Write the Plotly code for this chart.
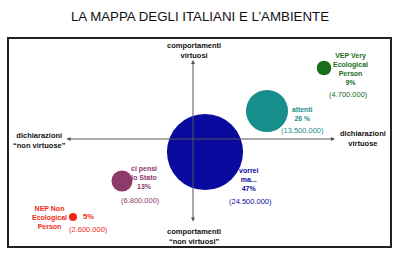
import plotly.graph_objects as go

# Data
groups = ["NEP Non Ecological Person", "ci pensi lo Stato", "vorrei ma...", "attenti", "VEP Very Ecological Person"]
percent = [5, 13, 47, 26, 9]
people = ["2.600.000", "6.800.000", "24.500.000", "13.500.000", "4.700.000"]
x_pos = [-120, -71, 12, 74, 131]
y_pos = [-78, -42, -13, 28, 71]
colors = ["#ee2a14", "#8e3a6a", "#0a0a9e", "#178e8c", "#1a6e1a"]

FONT = "Liberation Sans, Arial, sans-serif"

fig = go.Figure()
fig.add_trace(go.Scatter(
    x=x_pos, y=y_pos, mode="markers",
    marker=dict(size=[p * 1.62 for p in percent], sizemode="diameter",
                color=colors, line=dict(width=0), opacity=1),
    hoverinfo="skip", showlegend=False,
))

ann = []
# axes arrows
ann.append(dict(x=0, y=79, ax=0, ay=-84, xref="x", yref="y", axref="x", ayref="y",
                showarrow=True, arrowhead=2, arrowside="end+start", arrowsize=0.8,
                arrowwidth=1, arrowcolor="#555", text=""))
ann.append(dict(x=142, y=0, ax=-128, ay=0, xref="x", yref="y", axref="x", ayref="y",
                showarrow=True, arrowhead=2, arrowside="end+start", arrowsize=0.8,
                arrowwidth=1, arrowcolor="#555", text=""))

def lab(x, y, text, color="#111", size=7.5, bold=True):
    t = "<b>" + text + "</b>" if bold else text
    ann.append(dict(x=x, y=y, xref="x", yref="y", text=t, showarrow=False,
                    font=dict(family=FONT, size=size, color=color), align="center"))

lab(1, 89, "comportamenti<br>virtuosi")
lab(1, -97, "comportamenti<br>“non virtuosi”")
lab(-154, -1, "dichiarazioni<br>“non virtuose”")
lab(170, 1, "dichiarazioni<br>virtuose")

# group labels
lab(157, 70, "VEP Very<br>Ecological<br>Person<br>" + str(percent[4]) + "%", colors[4], 7)
lab(155, 45, "(" + people[4] + ")", colors[4], 7.5, False)
lab(109, 25, "attenti<br>" + str(percent[3]) + " %", colors[3], 6.8)
lab(109, 9, "(" + people[3] + ")", colors[3], 7.5, False)
lab(56, -40, "vorrei<br>ma...<br>" + str(percent[2]) + "%", colors[2], 7)
lab(57, -62, "(" + people[2] + ")", colors[2], 7.5, False)
lab(-49, -38, "ci pensi<br>lo Stato<br>" + str(percent[1]) + "%", colors[1], 7)
lab(-53, -61, "(" + people[1] + ")", colors[1], 7.5, False)
lab(-144, -78, "NEP Non<br>Ecological<br>Person", colors[0], 7)
lab(-105, -77, str(percent[0]) + "%", colors[0], 7.5)
lab(-105, -90, "(" + people[0] + ")", colors[0], 7.5, False)

fig.update_layout(
    width=400, height=264,
    margin=dict(l=8, r=9, t=38, b=17),
    paper_bgcolor="white", plot_bgcolor="white",
    title=dict(text="LA MAPPA DEGLI ITALIANI E L’AMBIENTE", x=0.5, xanchor="center",
               y=1 - 16 / 264, yanchor="middle",
               font=dict(family=FONT, size=13.3, color="#111")),
    xaxis=dict(range=[-185, 198], visible=False, fixedrange=True),
    yaxis=dict(range=[-108, 101], visible=False, fixedrange=True),
    annotations=ann,
    shapes=[dict(type="rect", xref="paper", yref="paper", x0=0, x1=1, y0=0, y1=1,
                 line=dict(color="#222", width=2))],
)

fig.write_html("out.html")
